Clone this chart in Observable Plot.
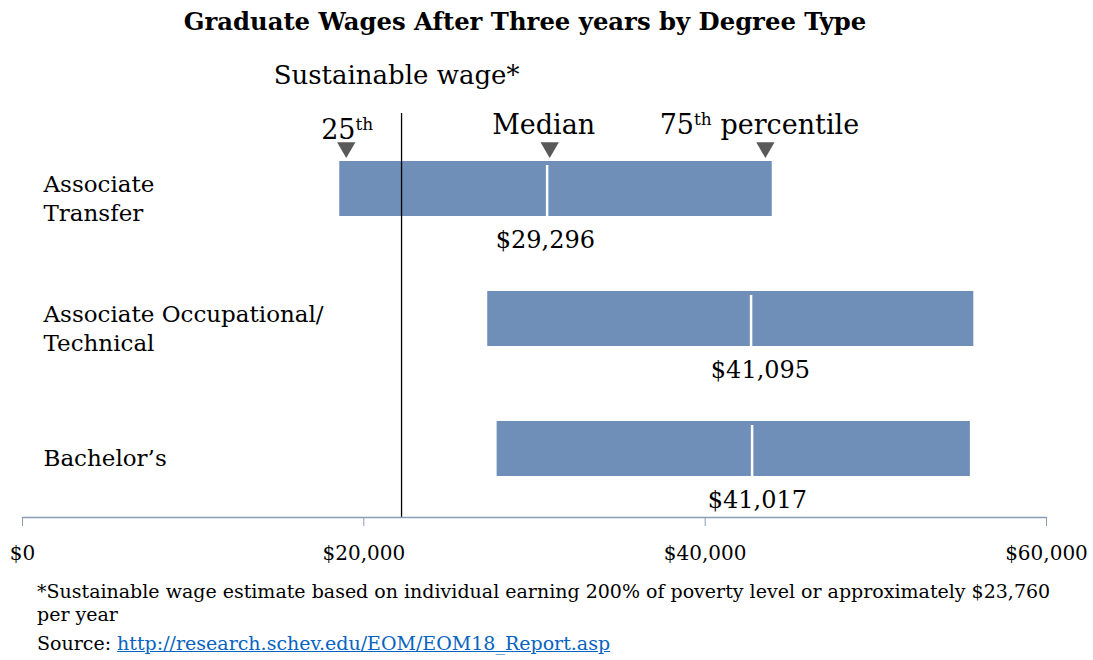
<!DOCTYPE html>
<html>
<head>
<meta charset="utf-8">
<script src="https://cdn.jsdelivr.net/npm/d3@7"></script>
<script src="https://cdn.jsdelivr.net/npm/@observablehq/plot@0.6"></script>
<style>
  html, body { margin: 0; padding: 0; background: #fff; }
  body { width: 1093px; height: 660px; overflow: hidden; font-family: "DejaVu Serif", serif; color: #000; }
  #title { height: 44px; line-height: 44px; font-weight: bold; font-size: 24.3px; text-align: center; padding-right: 43px; }
  #chart svg { display: block; }
  #notes { padding-left: 37px; padding-top: 4px; width: 1030px; font-size: 19px; line-height: 23px; }
  #notes a { color: #0563c1; text-decoration: underline; }
  #src { margin-top: 6px; }
</style>
</head>
<body>
<div id="title">Graduate Wages After Three years by Degree Type</div>
<div id="chart"></div>
<div id="notes">
  <div>*Sustainable wage estimate based on individual earning 200% of poverty level or approximately $23,760 per year</div>
  <div id="src">Source: <a href="http://research.schev.edu/EOM/EOM18_Report.asp">http://research.schev.edu/EOM/EOM18_Report.asp</a></div>
</div>
<script>
// ---- data ----
const categories = ["Associate\nTransfer", "Associate Occupational/\nTechnical", "Bachelor’s"];
const p25 = [18590, 27260, 27810];          // left edge of each bar
const p75 = [43930, 55740, 55540];          // right edge of each bar
const medianPos = [30740, 42690, 42750];    // white median line
const medianLabels = ["$29,296", "$41,095", "$41,017"];
const medianLabelPos = [30640, 43240, 43060];
const sustainableWage = [22210];
const markerPos = [18970, 30890, 43530];
const markerLabels = ["25th", "Median", "75th percentile"];
const xTicks = [0, 20000, 40000, 60000];

const rows = categories.map((c, i) => ({
  cat: c, lo: p25[i], hi: p75[i], med: medianPos[i],
  label: medianLabels[i], labelX: medianLabelPos[i]
}));
const markers = markerPos.map((x, i) => ({x, label: markerLabels[i]}));

const barColor = "#6f8fb9";
const axisColor = "#8b9cb6";

const chart = Plot.plot({
  width: 1093,
  height: 532,
  marginLeft: 22,
  marginRight: 47,
  marginTop: 69,
  marginBottom: 59,
  style: {fontFamily: "DejaVu Serif", fontSize: "20px", color: "#000", background: "#fff"},
  x: {domain: [0, 60000]},
  y: {type: "band", domain: categories, range: [116, 433], paddingInner: 0.58, paddingOuter: 0, axis: null},
  marks: [
    Plot.barX(rows, {x1: "lo", x2: "hi", y: "cat", fill: barColor}),
    Plot.tickX(rows, {x: "med", y: "cat", stroke: "white", strokeWidth: 2.5, insetTop: 4}),
    Plot.ruleX(sustainableWage, {stroke: "black", strokeWidth: 1.3}),
    Plot.frame({anchor: "bottom", stroke: axisColor, strokeWidth: 1.3}),
    Plot.axisX({ticks: xTicks, tickFormat: d => "$" + d3.format(",")(d), tickSize: 9, tickPadding: 19,
                stroke: axisColor, fill: "black", fontSize: 20, label: null}),
    Plot.dot(markers, {x: "x", frameAnchor: "top", dy: 34, symbol: "triangle", rotate: 180, r: 6.8, fill: "#595959", stroke: null}),
    Plot.text(markers.slice(0, 1), {x: "x", text: "label", frameAnchor: "top", dy: 25, lineAnchor: "bottom", fontSize: 27, dx: 1}),
    Plot.text(markers.slice(1), {x: "x", text: "label", frameAnchor: "top", dy: 20, lineAnchor: "bottom", fontSize: 27, dx: -6}),
    Plot.text(sustainableWage, {x: d => d, text: () => "Sustainable wage*", frameAnchor: "top", dy: -30, lineAnchor: "bottom", fontSize: 26, textAnchor: "middle", dx: -5}),
    Plot.text(rows, {y: "cat", text: "cat", frameAnchor: "left", dx: 21, dy: 8, textAnchor: "start", lineAnchor: "middle", fontSize: 23, lineHeight: 1.28}),
    Plot.text(rows, {x: "labelX", y: "cat", text: "label", dy: 51, lineAnchor: "middle", fontSize: 24})
  ]
});

// superscript ordinal suffixes ("25th", "75th percentile")
d3.select(chart).selectAll("text").each(function() {
  const t = this.textContent;
  const m = t.match(/^(\d+)th(.*)$/);
  if (!m) return;
  const s = d3.select(this);
  s.text(null);
  s.append("tspan").text(m[1]);
  s.append("tspan").attr("dy", "-9").attr("font-size", "17").text("th");
  if (m[2]) s.append("tspan").attr("dy", "9").text(m[2]);
});

document.getElementById("chart").appendChild(chart);
</script>
</body>
</html>
